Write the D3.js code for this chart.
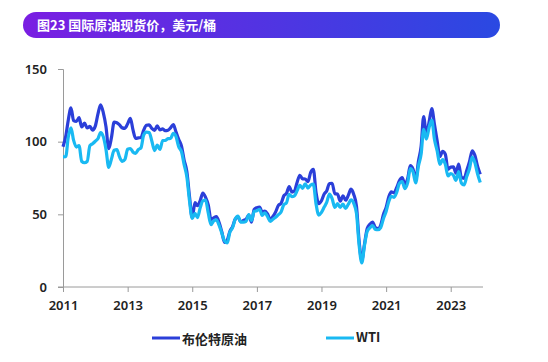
<!DOCTYPE html>
<html>
<head>
<meta charset="utf-8">
<script src="https://cdn.jsdelivr.net/npm/d3@7"></script>
<style>
  body { margin: 0; background: #fff; }
  svg { display: block; font-family: "Noto Sans CJK SC", "Noto Sans", sans-serif; }
</style>
</head>
<body>
<div id="chart"></div>
<script>
// Monthly spot prices, Jan 2011 - Dec 2023 (USD/bbl)
const startYear = 2011;
const brent = [
  96.5, 103.7, 114.6, 123.3, 114.5, 113.9, 116.5, 110.1, 112.8, 109.5, 110.5, 107.9,
  110.7, 119.3, 125.4, 119.8, 110.3, 95.2, 102.6, 113.4, 113.0, 111.5, 109.5, 109.2,
  112.3, 116.1, 108.5, 102.3, 102.6, 102.9, 107.9, 111.3, 111.6, 109.1, 107.8, 110.8,
  108.1, 108.9, 107.5, 107.8, 109.5, 111.8, 106.8, 101.6, 97.1, 87.4, 79.4, 62.3,
  47.8, 58.1, 55.9, 59.5, 64.6, 61.7, 56.5, 46.5, 47.6, 48.4, 44.3, 38.0,
  30.7, 32.2, 38.2, 41.6, 46.7, 48.3, 44.9, 45.8, 46.6, 49.5, 44.7, 53.3,
  54.6, 55.0, 51.6, 52.3, 50.3, 46.4, 48.5, 51.7, 56.2, 57.5, 62.7, 64.4,
  69.1, 65.3, 66.0, 72.1, 76.9, 74.4, 74.3, 72.5, 78.9, 81.0, 64.8, 57.4,
  59.4, 64.0, 66.1, 71.2, 71.3, 64.2, 63.9, 59.0, 62.8, 59.7, 63.2, 67.3,
  63.7, 55.5, 32.0, 18.4, 29.4, 40.3, 43.2, 44.7, 40.9, 40.2, 42.7, 49.9,
  54.8, 62.3, 65.4, 64.8, 68.5, 73.2, 75.2, 70.8, 74.5, 83.5, 81.1, 74.2,
  86.5, 97.1, 117.3, 104.6, 113.3, 122.7, 111.9, 100.5, 89.8, 93.3, 91.4, 80.9,
  82.5, 82.6, 78.4, 84.6, 75.5, 74.8, 80.1, 86.2, 93.7, 90.6, 82.9, 77.6
];
const wti = [
  89.6, 89.7, 102.9, 109.5, 100.9, 96.3, 97.3, 86.3, 85.5, 86.3, 97.2, 98.6,
  100.3, 102.2, 106.2, 103.3, 94.7, 82.3, 87.9, 94.1, 94.5, 89.5, 86.5, 87.9,
  94.8, 95.3, 92.9, 92.0, 94.5, 95.8, 104.6, 106.6, 106.3, 100.5, 93.9, 97.6,
  94.6, 100.8, 100.8, 102.1, 102.2, 105.8, 103.6, 96.5, 93.2, 84.4, 75.8, 59.3,
  47.2, 50.6, 47.8, 54.5, 59.3, 59.8, 50.9, 42.9, 45.5, 46.2, 42.4, 37.2,
  31.7, 30.3, 37.6, 40.8, 46.7, 48.8, 44.7, 44.7, 45.2, 49.8, 45.7, 52.0,
  52.5, 53.5, 49.3, 51.1, 48.5, 45.2, 46.6, 48.0, 49.8, 51.6, 56.6, 57.9,
  63.7, 62.2, 62.7, 66.3, 70.0, 67.9, 71.0, 68.1, 70.2, 70.8, 57.0, 49.5,
  51.4, 55.0, 58.2, 63.9, 60.8, 54.7, 57.4, 54.8, 57.0, 54.0, 57.0, 59.9,
  57.5, 50.5, 29.2, 16.6, 28.5, 38.3, 40.7, 42.3, 39.6, 39.4, 40.9, 47.0,
  52.0, 59.0, 62.3, 61.7, 65.2, 71.4, 72.5, 67.7, 71.6, 81.5, 79.2, 71.7,
  83.2, 91.6, 108.5, 101.8, 109.6, 114.8, 101.6, 93.7, 84.3, 87.6, 84.4, 76.4,
  78.1, 76.8, 73.3, 79.4, 71.6, 70.3, 76.0, 81.4, 89.4, 85.6, 77.7, 71.9
];
const yTicks = [0, 50, 100, 150];
const xTickYears = [2011, 2013, 2015, 2017, 2019, 2021, 2023];
const seriesNames = ["布伦特原油", "WTI"];
const seriesColors = ["#2b3fd9", "#19b9f2"];
const title = "图23 国际原油现货价，美元/桶";

const width = 548, height = 362;
const margin = { top: 69, right: 65, bottom: 75, left: 63 };

const svg = d3.select("#chart").append("svg")
  .attr("width", width)
  .attr("height", height);

// Title banner with gradient
const grad = svg.append("defs").append("linearGradient")
  .attr("id", "titleGrad").attr("x1", "0%").attr("x2", "100%");
grad.append("stop").attr("offset", "0%").attr("stop-color", "#7a1ee2");
grad.append("stop").attr("offset", "100%").attr("stop-color", "#2a49e2");

svg.append("rect")
  .attr("x", 23).attr("y", 12).attr("width", 477).attr("height", 26)
  .attr("rx", 13).attr("fill", "url(#titleGrad)");
svg.append("text")
  .attr("x", 37).attr("y", 30)
  .attr("fill", "#fff").attr("font-size", 13).attr("font-weight", 700)
  .text(title);

const dates = brent.map((d, i) => new Date(startYear, i, 1));

const x = d3.scaleTime()
  .domain([new Date(startYear, 0, 1), new Date(2024, 0, 1)])
  .range([margin.left, width - margin.right]);

const y = d3.scaleLinear()
  .domain([0, 150])
  .range([height - margin.bottom, margin.top]);

// Axes
const xAxis = svg.append("g")
  .attr("transform", `translate(0,${height - margin.bottom})`)
  .call(d3.axisBottom(x)
    .tickValues(xTickYears.map(yr => new Date(yr, 0, 1)))
    .tickFormat(d3.timeFormat("%Y"))
    .tickSizeOuter(0)
    .tickSize(5)
    .tickPadding(9));

const yAxis = svg.append("g")
  .attr("transform", `translate(${margin.left},0)`)
  .call(d3.axisLeft(y)
    .tickValues(yTicks)
    .tickSizeOuter(0)
    .tickSize(5)
    .tickPadding(11));

[xAxis, yAxis].forEach(g => {
  g.select(".domain").attr("stroke", "#9a9a9a");
  g.selectAll(".tick line").attr("stroke", "#9a9a9a");
  g.selectAll(".tick text")
    .attr("fill", "#222")
    .attr("font-size", 13)
    .attr("font-weight", 600)
    .attr("font-family", "'Noto Sans', sans-serif");
});
// x baseline starts at the 0 tick's left end, as in the reference
xAxis.select(".domain").attr("d", `M${margin.left - 5},0H${width - margin.right}`);

// Lines (WTI drawn last, on top)
const line = d3.line()
  .x((d, i) => x(dates[i]))
  .y(d => y(d))
  .curve(d3.curveMonotoneX);

[brent, wti].forEach((series, k) => {
  svg.append("path")
    .datum(series)
    .attr("fill", "none")
    .attr("stroke", seriesColors[k])
    .attr("stroke-width", 3.2)
    .attr("stroke-linejoin", "round")
    .attr("d", line);
});

// Legend
const legendX = [152, 326];
const legend = svg.append("g");
seriesNames.forEach((name, k) => {
  legend.append("line")
    .attr("x1", legendX[k]).attr("x2", legendX[k] + 28)
    .attr("y1", 338).attr("y2", 338)
    .attr("stroke", seriesColors[k]).attr("stroke-width", 3);
  legend.append("text")
    .attr("x", legendX[k] + 30).attr("y", k === 0 ? 344 : 342)
    .attr("fill", "#222").attr("font-size", 13).attr("font-weight", 600)
    .text(name);
});
</script>
</body>
</html>
